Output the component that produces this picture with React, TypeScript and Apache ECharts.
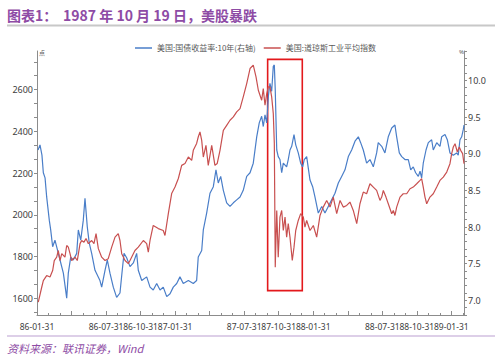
import React, { useEffect, useRef } from 'react';
import * as echarts from 'echarts';

// x positions are months after 1986-01-31
const xTickMonths = [0, 6, 9, 12, 18, 21, 24, 30, 33, 36];
const xTickLabels = ['86-01-31', '86-07-31', '86-10-31', '87-01-31', '87-07-31', '87-10-31', '88-01-31', '88-07-31', '88-10-31', '89-01-31'];
const leftLabelValues = [1600, 1800, 2000, 2200, 2400, 2600];
const rightLabelValues = [7.0, 7.5, 8.0, 8.5, 9.0, 9.5, 10.0];
const seriesNames = ['美国:国债收益率:10年(右轴)', '美国:道琼斯工业平均指数'];

const yieldPoints: [number, number][] = [
  [0.09, 9.05], [0.26, 9.12], [0.43, 8.98], [0.55, 8.74], [0.70, 8.67], [0.84, 8.41], [1.07, 8.09], [1.19, 7.96],
  [1.36, 7.73], [1.56, 7.82], [1.71, 7.73], [2.00, 7.55], [2.29, 7.37], [2.48, 7.15], [2.58, 7.03], [2.72, 7.37],
  [2.93, 7.59], [3.15, 7.55], [3.45, 7.64], [3.59, 7.96], [3.80, 7.82], [4.02, 8.09], [4.17, 8.39], [4.37, 8.00],
  [4.54, 7.78], [4.75, 7.64], [5.04, 7.41], [5.47, 7.27], [5.62, 7.18], [5.91, 7.41], [6.11, 7.55], [6.34, 7.37],
  [6.63, 7.18], [6.92, 7.04], [7.21, 7.10], [7.38, 7.37], [7.56, 7.64], [7.79, 7.58], [8.08, 7.46], [8.37, 7.51],
  [8.66, 7.64], [8.80, 7.41], [9.10, 7.27], [9.53, 7.32], [9.82, 7.18], [10.10, 7.14], [10.40, 7.23], [10.69, 7.14],
  [10.97, 7.18], [11.27, 7.05], [11.56, 7.09], [11.84, 7.18], [12.14, 7.23], [12.42, 7.32], [12.71, 7.23], [13.15, 7.27],
  [13.58, 7.23], [13.87, 7.27], [14.01, 7.59], [14.31, 7.68], [14.45, 7.96], [14.74, 8.19], [15.03, 8.46], [15.32, 8.55],
  [15.55, 8.78], [15.75, 8.60], [15.96, 8.69], [16.19, 8.50], [16.48, 8.33], [16.77, 8.28], [17.06, 8.33], [17.35, 8.37],
  [17.64, 8.41], [17.92, 8.50], [18.22, 8.69], [18.51, 8.74], [18.79, 8.87], [19.09, 9.23], [19.31, 9.42], [19.52, 9.51],
  [19.66, 9.37], [19.81, 9.53], [19.96, 9.42], [20.10, 9.78], [20.24, 9.96], [20.39, 9.85], [20.53, 10.19], [20.62, 10.21],
  [20.70, 9.87], [20.83, 9.05], [20.96, 8.96], [21.11, 8.92], [21.26, 8.74], [21.40, 8.87], [21.69, 8.82], [21.83, 8.92],
  [21.98, 9.05], [22.13, 9.10], [22.33, 9.26], [22.48, 9.12], [22.70, 9.01], [22.91, 8.87], [23.08, 8.82], [23.22, 8.92],
  [23.43, 8.96], [23.72, 8.64], [23.95, 8.55], [24.15, 8.41], [24.44, 8.19], [24.74, 8.28], [25.02, 8.19], [25.31, 8.28],
  [25.60, 8.37], [25.89, 8.46], [26.18, 8.60], [26.47, 8.69], [26.76, 8.78], [27.05, 8.96], [27.34, 9.05], [27.63, 9.17],
  [27.92, 9.23], [28.12, 9.15], [28.35, 9.05], [28.64, 8.87], [28.93, 8.92], [29.22, 8.82], [29.51, 9.01], [29.65, 9.15],
  [29.95, 9.10], [30.23, 9.01], [30.52, 9.23], [30.82, 9.35], [31.10, 9.39], [31.25, 9.23], [31.48, 9.01], [31.69, 8.96],
  [31.97, 8.92], [32.26, 8.92], [32.47, 8.78], [32.69, 8.82], [32.90, 8.74], [33.13, 8.69], [33.28, 8.76], [33.42, 8.67],
  [33.56, 8.87], [33.80, 9.05], [34.00, 9.15], [34.29, 9.19], [34.43, 9.05], [34.73, 9.15], [35.01, 9.10], [35.16, 9.23],
  [35.45, 9.26], [35.65, 9.19], [35.88, 9.01], [36.17, 8.98], [36.46, 9.01], [36.60, 8.98], [36.75, 9.19], [36.90, 9.23],
  [37.04, 9.33], [37.10, 9.39],
];

const djiaPoints: [number, number][] = [
  [0.11, 1582], [0.41, 1653], [0.55, 1685], [0.84, 1709], [1.13, 1702], [1.36, 1733], [1.50, 1781], [1.71, 1797],
  [1.85, 1829], [2.00, 1781], [2.15, 1814], [2.43, 1797], [2.58, 1853], [2.72, 1845], [2.87, 1814], [3.01, 1781],
  [3.30, 1797], [3.50, 1781], [3.74, 1862], [3.88, 1877], [4.08, 1869], [4.26, 1886], [4.46, 1862], [4.75, 1877],
  [4.95, 1862], [5.13, 1910], [5.33, 1838], [5.62, 1797], [5.91, 1781], [6.19, 1790], [6.49, 1845], [6.78, 1893],
  [7.06, 1910], [7.21, 1877], [7.36, 1814], [7.65, 1781], [7.93, 1766], [8.08, 1781], [8.51, 1829], [8.80, 1845],
  [9.24, 1877], [9.53, 1862], [9.67, 1821], [9.82, 1877], [10.10, 1949], [10.54, 1934], [10.97, 1925], [11.12, 1901],
  [11.41, 2006], [11.70, 2102], [11.99, 2133], [12.28, 2174], [12.57, 2237], [12.86, 2246], [13.15, 2277], [13.44, 2261],
  [13.58, 2309], [13.87, 2342], [14.01, 2373], [14.16, 2397], [14.31, 2357], [14.45, 2277], [14.68, 2333], [14.88, 2237],
  [15.18, 2333], [15.46, 2237], [15.66, 2246], [15.90, 2309], [16.19, 2405], [16.48, 2429], [16.77, 2453], [17.06, 2469],
  [17.35, 2493], [17.64, 2509], [17.92, 2565], [18.22, 2629], [18.51, 2701], [18.79, 2717], [19.03, 2661], [19.23, 2597],
  [19.52, 2549], [19.66, 2605], [19.81, 2525], [19.96, 2581], [20.10, 2613], [20.24, 2613], [20.39, 2565], [20.53, 2485],
  [20.62, 2342], [20.70, 1749], [20.83, 2021], [20.96, 1797], [21.11, 1989], [21.26, 2021], [21.40, 1925], [21.55, 1989],
  [21.69, 1893], [21.83, 1958], [21.98, 1893], [22.18, 1781], [22.33, 1845], [22.48, 1925], [22.70, 1973], [22.91, 2006],
  [23.14, 1989], [23.28, 1941], [23.43, 1973], [23.72, 1925], [24.01, 1949], [24.30, 1893], [24.59, 1997], [24.87, 2037],
  [25.17, 2069], [25.46, 2037], [25.74, 2085], [26.04, 2006], [26.33, 2069], [26.61, 2037], [26.91, 2045], [27.19, 2061],
  [27.48, 2021], [27.78, 1958], [28.06, 2053], [28.35, 2109], [28.64, 2101], [28.93, 2149], [29.22, 2133], [29.51, 2117],
  [29.80, 2069], [29.95, 2085], [30.09, 2117], [30.32, 2085], [30.52, 2053], [30.82, 2005], [30.96, 2021], [31.10, 1997],
  [31.25, 2037], [31.54, 2085], [31.82, 2101], [32.12, 2101], [32.41, 2125], [32.69, 2133], [32.99, 2149], [33.28, 2165],
  [33.42, 2173], [33.56, 2133], [33.71, 2085], [33.86, 2053], [34.14, 2085], [34.43, 2101], [34.73, 2133], [35.01, 2165],
  [35.30, 2181], [35.60, 2205], [35.88, 2245], [36.03, 2293], [36.17, 2325], [36.32, 2341], [36.52, 2301], [36.69, 2325],
  [36.81, 2309], [36.98, 2293], [37.10, 2245],
];

// annotation box around the crash (months / index points)
const crashBox = { fromMonth: 20.04, toMonth: 23.05, top: 2745, bottom: 1637 };

const BLUE = '#4a7ec8';
const RED = '#c85050';
const AXIS = '#8c8c8c';
const LABEL = '#404040';
const PURPLE = '#8e4ba5';

const leftTicks: number[] = [];
for (let k = 23; k <= 41; k++) leftTicks.push((k * 200) / 3);
const rightTicks: number[] = [];
for (let k = 68; k <= 104; k++) rightTicks.push(k / 10);

export default function App() {
  const ref = useRef<HTMLDivElement>(null);
  useEffect(() => {
    if (!ref.current) return;
    const chart = echarts.init(ref.current, undefined, { renderer: 'svg' });
    chart.setOption({
      animation: false,
      backgroundColor: '#ffffff',
      grid: { left: 37, right: 36, top: 51, bottom: 48 },
      legend: {
        data: seriesNames,
        left: 130,
        top: 39,
        icon: 'rect',
        itemWidth: 17,
        itemHeight: 1.5,
        itemGap: 8,
        textStyle: { fontSize: 8, color: '#595959', fontFamily: 'Noto Sans CJK SC' },
      },
      xAxis: {
        type: 'value',
        min: 0,
        max: 37.1,
        interval: 3,
        axisLine: { show: true, lineStyle: { color: AXIS, width: 1 } },
        axisTick: { show: true, inside: true, length: 4, lineStyle: { color: AXIS } },
        minorTick: { show: true, splitNumber: 3, length: 2, lineStyle: { color: AXIS } },
        splitLine: { show: false },
        minorSplitLine: { show: false },
        axisLabel: {
          fontSize: 8.5,
          color: LABEL,
          margin: 7,
          fontFamily: 'Noto Sans',
          formatter: (v: number) => {
            const i = xTickMonths.findIndex((m) => Math.abs(m - v) < 1e-6);
            return i >= 0 ? xTickLabels[i] : '';
          },
        },
      },
      yAxis: [
        {
          type: 'value',
          position: 'left',
          min: 1520,
          max: 2785,
          axisLine: { show: true, lineStyle: { color: AXIS, width: 1 } },
          axisTick: { show: true, length: 3, customValues: leftTicks, lineStyle: { color: AXIS } },
          splitLine: { show: false },
          axisLabel: {
            customValues: leftLabelValues,
            fontSize: 9,
            color: LABEL,
            margin: 4,
            fontFamily: 'Noto Sans',
            formatter: (v: number) => String(Math.round(v)),
          },
        },
        {
          type: 'value',
          position: 'right',
          min: 6.8,
          max: 10.4,
          axisLine: { show: true, lineStyle: { color: AXIS, width: 1 } },
          axisTick: { show: true, length: 3, customValues: rightTicks, lineStyle: { color: AXIS } },
          splitLine: { show: false },
          axisLabel: {
            customValues: rightLabelValues,
            fontSize: 9,
            color: LABEL,
            margin: 4,
            fontFamily: 'Noto Sans',
            formatter: (v: number) => v.toFixed(1),
          },
        },
      ],
      series: [
        {
          name: seriesNames[0],
          type: 'line',
          yAxisIndex: 1,
          data: yieldPoints,
          showSymbol: false,
          symbol: 'none',
          lineStyle: { width: 1.2, color: BLUE },
          itemStyle: { color: BLUE },
        },
        {
          name: seriesNames[1],
          type: 'line',
          yAxisIndex: 0,
          data: djiaPoints,
          showSymbol: false,
          symbol: 'none',
          lineStyle: { width: 1.2, color: RED },
          itemStyle: { color: RED },
          markArea: {
            silent: true,
            label: { show: false },
            itemStyle: { color: 'rgba(0,0,0,0)', borderColor: '#e3191c', borderWidth: 1.6 },
            data: [[{ coord: [crashBox.fromMonth, crashBox.top] }, { coord: [crashBox.toMonth, crashBox.bottom] }]],
          },
        },
      ],
      graphic: [
        { type: 'text', x: 7, y: 15, style: { text: '图表1：', fill: PURPLE, font: 'bold 14px "Noto Sans CJK SC"', verticalAlign: 'middle' } },
        { type: 'text', x: 63, y: 15, style: { text: '1987 年 10 月 19 日，美股暴跌', fill: PURPLE, font: 'bold 14px "Noto Sans CJK SC"', verticalAlign: 'middle' } },
        { type: 'line', shape: { x1: 7, y1: 25.5, x2: 495, y2: 25.5 }, style: { stroke: '#c8c8c8', lineWidth: 2 } },
        { type: 'line', shape: { x1: 7, y1: 336, x2: 495, y2: 336 }, style: { stroke: '#d2bfe0', lineWidth: 1.5 } },
        { type: 'text', x: 7, y: 348, style: { text: '资料来源：联讯证券，Wind', fill: PURPLE, font: 'italic 11px "Noto Sans CJK SC"', verticalAlign: 'middle' } },
        { type: 'text', x: 39, y: 52, style: { text: '点', fill: '#595959', font: '6px "Noto Sans CJK SC"', verticalAlign: 'middle' } },
        { type: 'text', x: 459, y: 52, style: { text: '%', fill: '#595959', font: '6px "Noto Sans"', verticalAlign: 'middle' } },
      ],
    });
    return () => chart.dispose();
  }, []);
  return <div ref={ref} style={{ position: 'absolute', left: 0, top: 0, width: 500, height: 363 }} />;
}
